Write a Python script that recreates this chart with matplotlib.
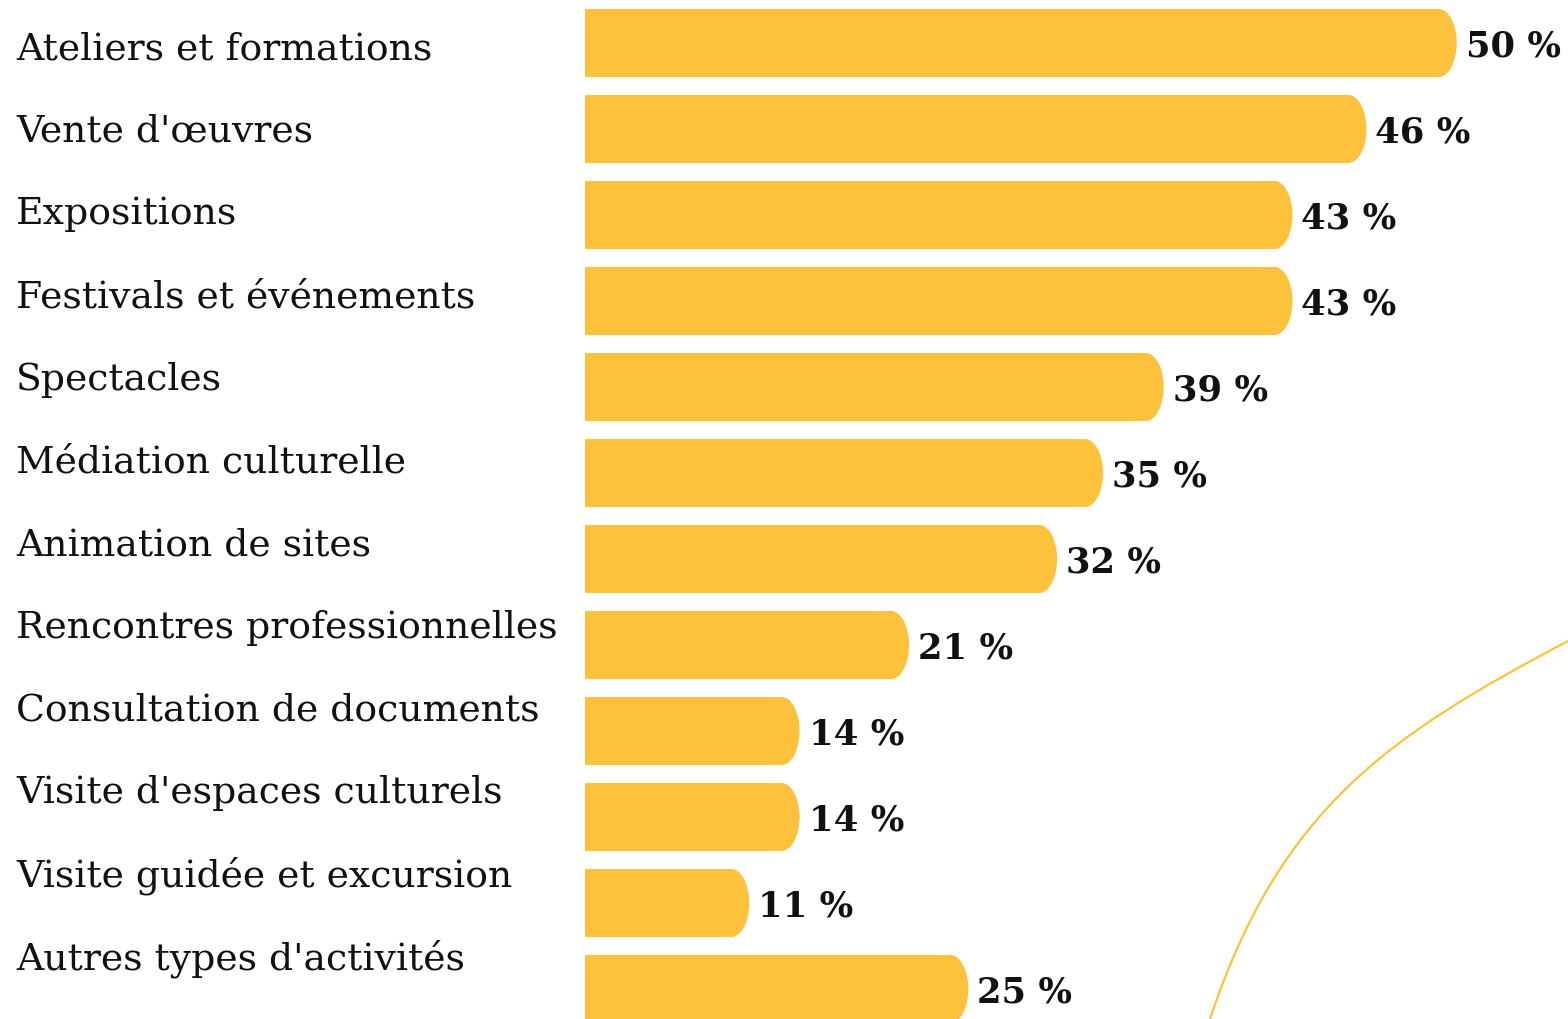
import matplotlib.pyplot as plt
from matplotlib.patches import Ellipse, PathPatch
from matplotlib.path import Path

categories = [
    "Ateliers et formations",
    "Vente d'œuvres",
    "Expositions",
    "Festivals et événements",
    "Spectacles",
    "Médiation culturelle",
    "Animation de sites",
    "Rencontres professionnelles",
    "Consultation de documents",
    "Visite d'espaces culturels",
    "Visite guidée et excursion",
    "Autres types d'activités",
]
# displayed percentages
labels = [50, 46, 43, 43, 39, 35, 32, 21, 14, 14, 11, 25]
# bar lengths as drawn in the picture (not proportional to labels on top rows)
bar_len = [58.9, 52.8, 47.8, 47.8, 39.1, 35.0, 31.9, 21.9, 14.5, 14.5, 11.1, 25.9]

W, H = 1568, 1020
yellow = "#FDC13C"
px_per_unit = 14.8
x0 = 585
row0, step, bar_h = 44, 86, 68

fig = plt.figure(figsize=(W / 100, H / 100), dpi=100)
fig.patch.set_facecolor("white")

# decorative overlay in pixel coordinates
deco = fig.add_axes([0, 0, 1, 1])
deco.set_xlim(0, W)
deco.set_ylim(H, 0)
deco.axis("off")
verts = [(1210, 1020), (1280, 810), (1388, 737), (1568, 642)]
codes = [Path.MOVETO, Path.CURVE4, Path.CURVE4, Path.CURVE4]
deco.add_patch(PathPatch(Path(verts, codes), fill=False, edgecolor=yellow, lw=1.6))

# category labels (spaced slightly tighter than bars)
for i, c in enumerate(categories):
    deco.text(16, 49 + i * 82.7, c, fontsize=27.2, family="DejaVu Serif",
              color="#111111", va="center", ha="left")

ax = fig.add_axes([x0 / W, 0, (W - x0) / W, 1])
ax.set_xlim(0, (W - x0) / px_per_unit)
ax.set_ylim((H - row0) / step, -row0 / step)
ax.axis("off")

h = bar_h / step
cap = 18 / px_per_unit
for i, (v, lab) in enumerate(zip(bar_len, labels)):
    ax.barh(i, v - cap, height=h, left=0, color=yellow, linewidth=0)
    ax.add_patch(Ellipse((v - cap, i), 2 * cap, h, color=yellow, lw=0))
    ax.text(v + 9 / px_per_unit, i + 0.03, f"{lab} %", fontsize=25.5, family="DejaVu Serif",
            fontweight="bold", color="#111111", va="center", ha="left")

fig.savefig("out.png", dpi=100, facecolor="white")
